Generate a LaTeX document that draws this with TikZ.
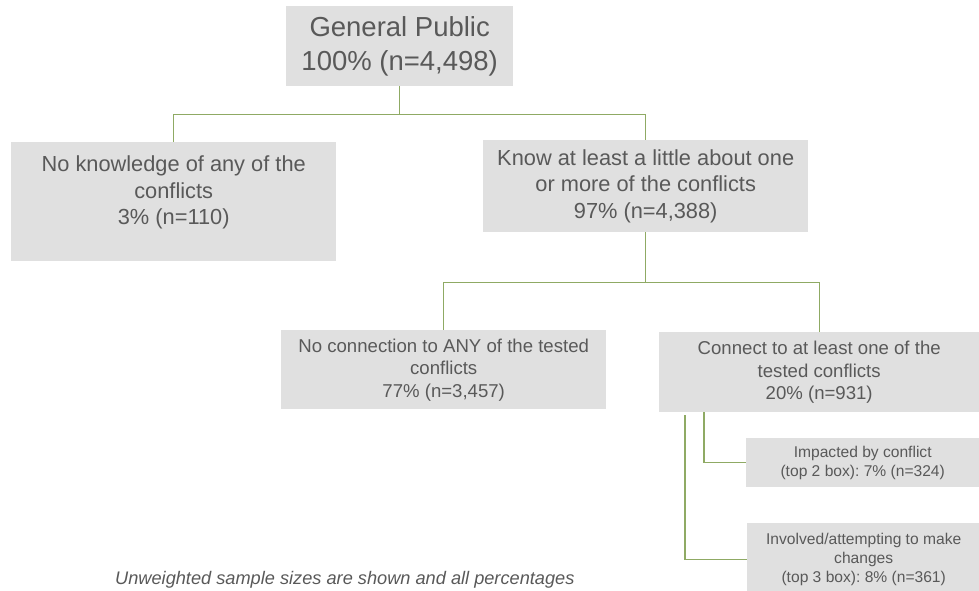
\documentclass[tikz,border=0pt]{standalone}
\usepackage{fontspec}
\setmainfont{Liberation Sans}
\frenchspacing
\definecolor{boxgray}{RGB}{224,224,224}
\definecolor{txtgray}{RGB}{89,89,89}
\definecolor{linkgreen}{RGB}{143,170,100}
\begin{document}
\begin{tikzpicture}[x=1pt,y=-1pt,
  box/.style={fill=boxgray,text=txtgray,align=center,anchor=north west,inner sep=0pt},
  link/.style={draw=linkgreen,line width=1.1pt}]
\useasboundingbox (0,0) rectangle (979,590);
% 第一层
\node[box,minimum width=227,minimum height=80,font=\fontsize{27.5}{34}\selectfont] (pub) at (286,6)
  {General Public\\100\% (n=4,498)};
% 第二层
\node[box,minimum width=325,minimum height=119,font=\fontsize{21.8}{26.5}\selectfont] (noknow) at (11,142)
  {No knowledge of any of the\\conflicts\\3\% (n=110)\\[-4pt]\mbox{}};
\node[box,minimum width=325,minimum height=92,font=\fontsize{21.8}{26.5}\selectfont] (know) at (483,140)
  {Know at least a little about one\\or more of the conflicts\\97\% (n=4,388)};
\draw[link] (pub.south) -- ++(0,28) coordinate (fork1) -| (noknow.north);
\draw[link] (fork1) -| (know.north);
% 第三层
\node[box,minimum width=325,minimum height=79,font=\fontsize{18.6}{22.5}\selectfont] (noconn) at (281,330)
  {No connection to ANY of the tested\\conflicts\\77\% (n=3,457)};
\node[box,minimum width=320,minimum height=80,font=\fontsize{18.6}{22.5}\selectfont] (conn) at (659,332)
  {Connect to at least one of the\\tested conflicts\\20\% (n=931)};
\draw[link] (know.south) -- ++(0,50) coordinate (fork2) -| (noconn.north);
\draw[link] (fork2) -| (conn.north);
% 第四层
\node[box,minimum width=233,minimum height=49,font=\fontsize{15.6}{19}\selectfont] (impact) at (746,438)
  {Impacted by conflict\\(top 2 box): 7\% (n=324)};
\node[box,minimum width=233,minimum height=72,font=\fontsize{15.6}{19}\selectfont] (involv) at (747,523)
  {Involved/attempting to make\\changes\\(top 3 box): 8\% (n=361)};
\draw[link] ([xshift=45]conn.south west) |- (impact.west);
\draw[link] ([xshift=26,yshift=-3]conn.south west) |- (involv.west);
% 注
\node[text=txtgray,anchor=base west,inner sep=0pt,font=\fontsize{18.2}{22}\selectfont\itshape] (note) at (115,584)
  {Unweighted sample sizes are shown and all percentages};
\end{tikzpicture}
\end{document}
